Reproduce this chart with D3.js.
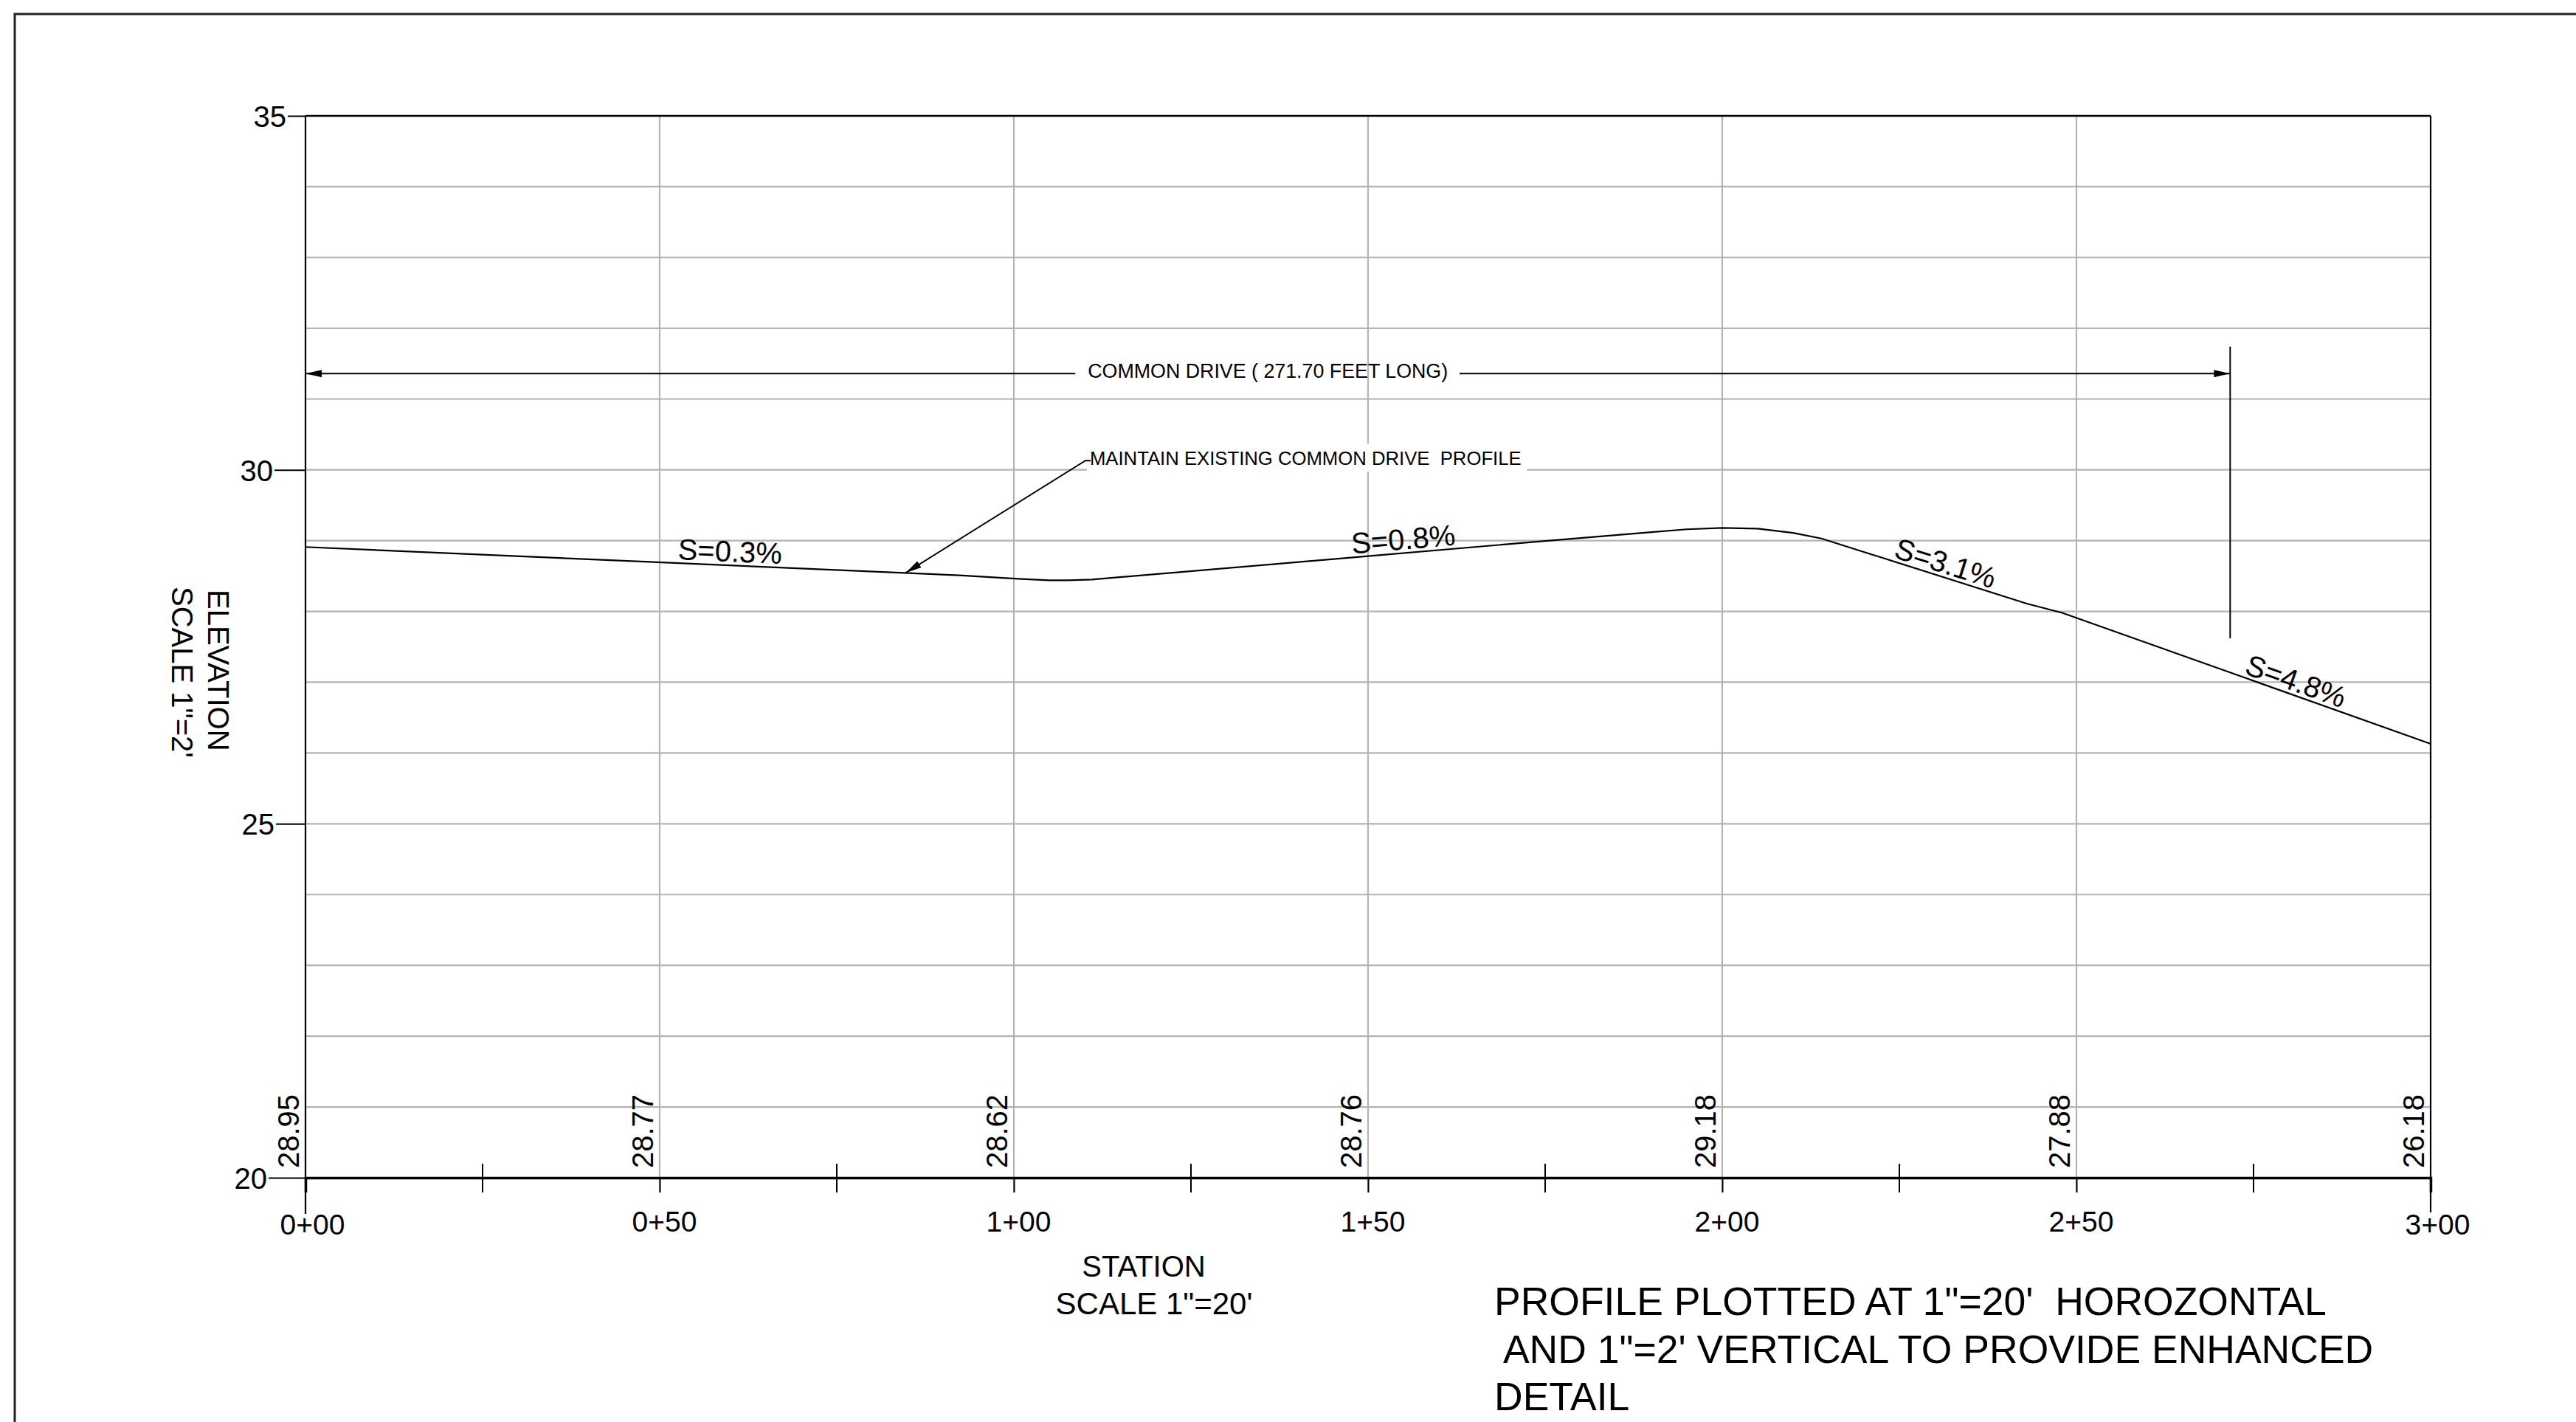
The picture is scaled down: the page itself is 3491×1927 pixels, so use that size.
<!DOCTYPE html>
<html>
<head>
<meta charset="utf-8">
<script src="https://cdn.jsdelivr.net/npm/d3@7"></script>
<style>
  body { margin: 0; background: #fff; }
  text { font-family: "Liberation Sans", Arial, sans-serif; fill: #000; white-space: pre; }
</style>
</head>
<body>
<svg id="sheet" width="3491" height="1927"></svg>
<script>
/*************************************************************
 *  Data section.
 *************************************************************/

// stations (ft) and elevations of the drawn profile line
const profileSta  = [0, 48.5, 92.3, 100.6, 105, 107.7, 111, 150, 175.6, 190, 195, 200, 205, 210, 214, 243, 248, 300];
const profileElev = [28.91, 28.70, 28.51, 28.46, 28.44, 28.44, 28.45, 28.78, 29.0, 29.12, 29.16, 29.18, 29.17, 29.11, 29.03, 28.11, 27.98, 26.13];

// elevation labels written at every 50 ft station
const labelSta  = [0, 50, 100, 150, 200, 250, 300];
const labelElev = ["28.95", "28.77", "28.62", "28.76", "29.18", "27.88", "26.18"];

// slope callouts and the station where each one starts
const slopeText = ["S=0.3%", "S=0.8%", "S=3.1%", "S=4.8%"];
const slopeSta  = [52.5, 147.8, 223.9, 273.4];

// axis ticks
const elevTicks  = [20, 25, 30, 35];
const majorSta   = [0, 50, 100, 150, 200, 250, 300];
const minorSta   = [25, 75, 125, 175, 225, 275];
const gridElev   = d3.range(21, 35);

// common drive length
const driveLength = 271.70;


/*************************************************************
 *  Drawing section.
 *************************************************************/

const GRID = "#b4b4b4";
let svg = d3.select("#sheet");

let x = d3.scaleLinear().domain([0, 300]).range([414, 3294]);
let y = d3.scaleLinear().domain([20, 35]).range([1596, 157]);

/**
 * Elevation of the profile line at station s (linear between read points).
 */
function elev_at(s){
    let i = d3.bisectRight(profileSta, s);
    i = Math.max(1, Math.min(profileSta.length - 1, i));
    let s0 = profileSta[i-1], s1 = profileSta[i];
    let t = (s - s0) / (s1 - s0);
    return profileElev[i-1] + t * (profileElev[i] - profileElev[i-1]);
}

/**
 * Screen angle (deg) of the profile segment around station s.
 */
function angle_at(s){
    let i = d3.bisectRight(profileSta, s);
    i = Math.max(1, Math.min(profileSta.length - 1, i));
    let dx = x(profileSta[i]) - x(profileSta[i-1]);
    let dy = y(profileElev[i]) - y(profileElev[i-1]);
    return Math.atan2(dy, dx) * 180 / Math.PI;
}

/**
 * Filled arrowhead with its tip at (tx,ty) pointing along angle a (radians).
 */
function arrow_head(g, tx, ty, a, len=22, half=5){
    let bx = tx - len*Math.cos(a), by = ty - len*Math.sin(a);
    let nx = -Math.sin(a)*half, ny = Math.cos(a)*half;
    g.append("path")
        .attr("d", `M${tx},${ty}L${bx+nx},${by+ny}L${bx-nx},${by-ny}Z`)
        .attr("fill", "#000");
}

// sheet border
svg.append("path")
    .attr("d", "M20,1927V19H3491")
    .attr("fill", "none").attr("stroke", "#222").attr("stroke-width", 3);

// horizontal grid
svg.append("g").selectAll("line").data(gridElev).join("line")
    .attr("x1", x(0)).attr("x2", x(300))
    .attr("y1", d => y(d)).attr("y2", d => y(d))
    .attr("stroke", GRID).attr("stroke-width", 2.2);

// vertical grid (through the axis down to tick length)
svg.append("g").selectAll("line").data(majorSta.slice(1, -1)).join("line")
    .attr("x1", d => x(d)).attr("x2", d => x(d))
    .attr("y1", y(35)).attr("y2", y(20) + 20)
    .attr("stroke", GRID).attr("stroke-width", 2.2);

// frame: top, left, right
svg.append("line").attr("x1", x(0)).attr("x2", x(300)).attr("y1", y(35)).attr("y2", y(35))
    .attr("stroke", "#000").attr("stroke-width", 2.5);
svg.append("line").attr("x1", x(0)).attr("x2", x(0)).attr("y1", y(35)).attr("y2", y(20) + 49)
    .attr("stroke", "#000").attr("stroke-width", 2.2);
svg.append("line").attr("x1", x(300)).attr("x2", x(300)).attr("y1", y(35)).attr("y2", y(20) + 47)
    .attr("stroke", "#000").attr("stroke-width", 2.2);

// y axis
let tickLen = {20: 50, 25: 40, 30: 42, 35: 24};
let yAxis = svg.append("g")
    .attr("transform", `translate(${x(0)},0)`)
    .call(d3.axisLeft(y).tickValues(elevTicks).tickSize(0).tickPadding(0));
yAxis.select(".domain").remove();
yAxis.selectAll(".tick line").attr("x2", d => -tickLen[d]).attr("stroke", "#000").attr("stroke-width", 2);
yAxis.selectAll(".tick text")
    .attr("x", d => -tickLen[d] - 2)
    .attr("dy", "0.36em")
    .style("font-size", "40px")
    .style("font-family", '"Liberation Sans", Arial, sans-serif');

// x axis (major ticks below, labels)
let xAxis = svg.append("g")
    .attr("transform", `translate(0,${y(20)})`)
    .call(d3.axisBottom(x).tickValues(majorSta).tickSize(20).tickPadding(0)
        .tickFormat(d => `${Math.floor(d/100)}+${String(d % 100).padStart(2, "0")}`));
xAxis.select(".domain").attr("stroke", "#000").attr("stroke-width", 3.5);
xAxis.selectAll(".tick line").attr("stroke", "#000").attr("stroke-width", 2);
xAxis.selectAll(".tick text")
    .attr("y", d => (d == 0 || d == 300) ? 77 : 73)
    .attr("dy", 0)
    .attr("dx", d => (d == 0 || d == 300) ? 9 : 6)
    .style("font-size", "39px")
    .style("font-family", '"Liberation Sans", Arial, sans-serif');

// minor ticks crossing the axis
svg.append("g").selectAll("line").data(minorSta).join("line")
    .attr("x1", d => x(d)).attr("x2", d => x(d))
    .attr("y1", y(20) - 19).attr("y2", y(20) + 20)
    .attr("stroke", "#000").attr("stroke-width", 2);

// elevation labels along the bottom
svg.append("g").selectAll("text").data(labelSta).join("text")
    .attr("transform", d => `translate(${x(d) - 9},${y(20) - 13}) rotate(-90)`)
    .style("font-size", "40px")
    .text((d, i) => labelElev[i]);

// profile line
let line = d3.line().x(d => x(d[0])).y(d => y(d[1]));
svg.append("path")
    .datum(profileSta.map((s, i) => [s, profileElev[i]]))
    .attr("d", line)
    .attr("fill", "none").attr("stroke", "#000").attr("stroke-width", 2.2);

// slope callouts sitting on the line
svg.append("g").selectAll("text").data(slopeSta).join("text")
    .attr("transform", d => `translate(${x(d)},${y(elev_at(d))}) rotate(${angle_at(d)})`)
    .attr("y", -5)
    .style("font-size", "40px")
    .text((d, i) => slopeText[i]);

// common drive dimension line
let dimY = y(31.36);
let dimL = x(0), dimR = x(driveLength);
let dimText = svg.append("text")
    .attr("x", (dimL + dimR) / 2).attr("y", dimY + 6)
    .attr("text-anchor", "middle")
    .style("font-size", "26.8px")
    .text(`COMMON DRIVE ( ${driveLength.toFixed(2)} FEET LONG)`);
let tb = dimText.node().getBBox();
svg.append("line").attr("x1", dimL).attr("x2", tb.x - 17).attr("y1", dimY).attr("y2", dimY)
    .attr("stroke", "#000").attr("stroke-width", 2);
svg.append("line").attr("x1", tb.x + tb.width + 16).attr("x2", dimR).attr("y1", dimY).attr("y2", dimY)
    .attr("stroke", "#000").attr("stroke-width", 2);
arrow_head(svg, dimL, dimY, Math.PI);
arrow_head(svg, dimR, dimY, 0);
svg.append("line").attr("x1", dimR).attr("x2", dimR).attr("y1", y(31.74)).attr("y2", y(27.62))
    .attr("stroke", "#000").attr("stroke-width", 2);

// leader note
let tipS = 84.7;
let tip = [x(tipS), y(elev_at(tipS))];
let knee = [x(110.1), y(30.13)];
let note = svg.append("g");
let noteText = note.append("text")
    .attr("x", knee[0] + 6).attr("y", knee[1] + 6)
    .style("font-size", "25.7px")
    .text("MAINTAIN EXISTING COMMON DRIVE  PROFILE");
let nb = noteText.node().getBBox();
note.insert("rect", "text")
    .attr("x", nb.x - 4).attr("y", nb.y - 6)
    .attr("width", nb.width + 12).attr("height", nb.height + 10)
    .attr("fill", "#fff");
note.append("path")
    .attr("d", `M${tip[0]},${tip[1]}L${knee[0]},${knee[1]}H${knee[0] + 7}`)
    .attr("fill", "none").attr("stroke", "#000").attr("stroke-width", 2);
arrow_head(note, tip[0], tip[1], Math.atan2(tip[1] - knee[1], tip[0] - knee[0]), 22, 5);

// axis titles
svg.append("text").attr("transform", "translate(282,799) rotate(90)")
    .style("font-size", "40px").text("ELEVATION");
svg.append("text").attr("transform", "translate(233,795) rotate(90)")
    .style("font-size", "40px").text("SCALE 1\"=2'");
svg.append("text").attr("x", 1550).attr("y", 1730).attr("text-anchor", "middle")
    .style("font-size", "40px").text("STATION");
svg.append("text").attr("x", 1564).attr("y", 1781).attr("text-anchor", "middle")
    .style("font-size", "42px").text("SCALE 1\"=20'");

// plotting note
let noteLines = ["PROFILE PLOTTED AT 1\"=20'  HOROZONTAL", " AND 1\"=2' VERTICAL TO PROVIDE ENHANCED", "DETAIL"];
svg.append("g").selectAll("text").data(noteLines).join("text")
    .attr("x", 2025).attr("y", (d, i) => 1782 + i * 64.5)
    .style("font-size", "53.5px")
    .text(d => d);
</script>
</body>
</html>
